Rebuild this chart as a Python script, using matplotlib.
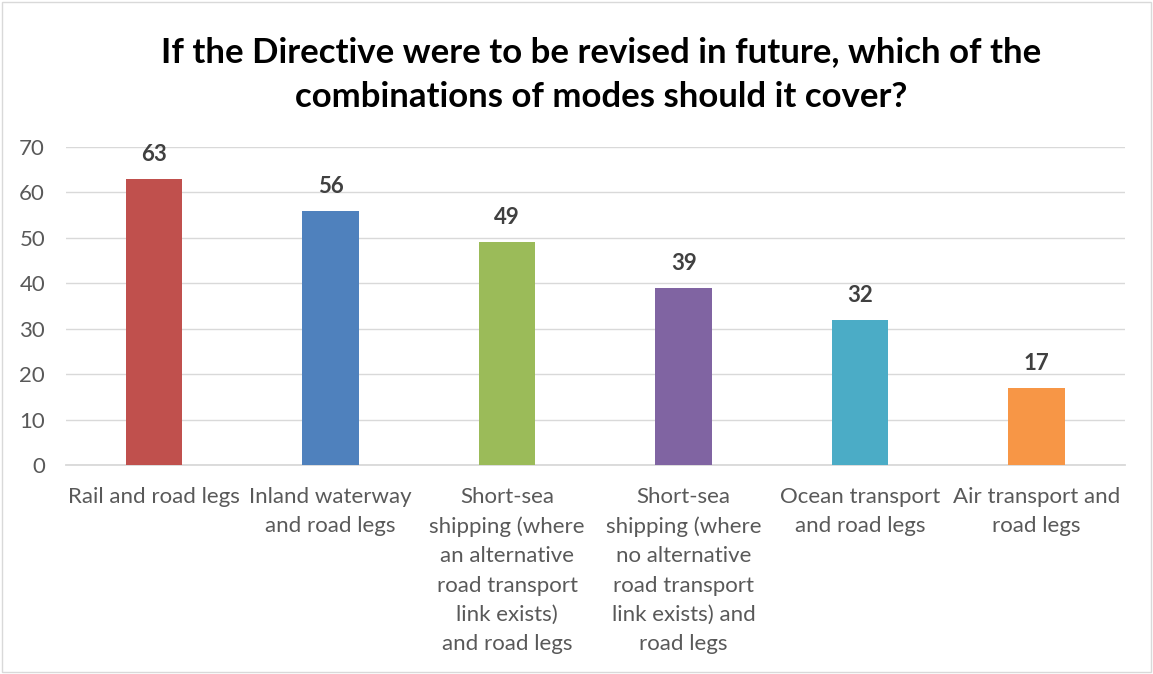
import matplotlib.pyplot as plt
from matplotlib.patches import Rectangle

# Survey answers: number of respondents per combination of modes
categories = [
    "Rail and road legs",
    "Inland waterway\nand road legs",
    "Short-sea\nshipping (where\nan alternative\nroad transport\nlink exists)\nand road legs",
    "Short-sea\nshipping (where\nno alternative\nroad transport\nlink exists) and\nroad legs",
    "Ocean transport\nand road legs",
    "Air transport and\nroad legs",
]
counts = [63, 56, 49, 39, 32, 17]
bar_colors = ["#C0504D", "#4F81BD", "#9BBB59", "#8064A2", "#4BACC6", "#F79646"]
y_ticks = [0, 10, 20, 30, 40, 50, 60, 70]

title = ("If the Directive were to be revised in future, which of the\n"
         "combinations of modes should it cover?")

plt.rcParams['font.family'] = ['Lato', 'DejaVu Sans']

fig = plt.figure(figsize=(11.53, 6.74), dpi=100)
ax = fig.add_axes([0.0572, 0.310, 0.9185, 0.472])

x = range(len(categories))
bars = ax.bar(x, counts, width=0.32, color=bar_colors, zorder=3)

for bar, val in zip(bars, counts):
    ax.annotate(str(val), (bar.get_x() + bar.get_width() / 2, val),
                xytext=(0, 10), textcoords='offset points',
                ha='center', va='bottom', fontsize=16, fontweight='bold',
                color='#404040')

ax.set_xlim(-0.5, len(categories) - 0.5)
ax.set_ylim(0, 70)
ax.set_yticks(y_ticks)
ax.set_xticks(list(x))
ax.set_xticklabels(categories, fontsize=16, color='#595959', linespacing=1.57)
ax.tick_params(axis='y', labelsize=16, labelcolor='#595959', length=0, pad=15)
ax.tick_params(axis='x', length=0, pad=16)

ax.grid(axis='y', color='#D9D9D9', linewidth=1, zorder=0)
for side in ['top', 'right', 'left']:
    ax.spines[side].set_visible(False)
ax.spines['bottom'].set_color('#D9D9D9')
ax.spines['bottom'].set_linewidth(1.3)

fig.text(0.521, 0.889, title, ha='center', va='center', fontsize=25,
         fontweight='bold', color='black', linespacing=1.5)

# thin frame around the whole chart
fig.patches.append(Rectangle((0.002, 0.003), 0.996, 0.994, transform=fig.transFigure,
                             fill=False, edgecolor='#D9D9D9', linewidth=1))

fig.savefig('out.png', dpi=100)
